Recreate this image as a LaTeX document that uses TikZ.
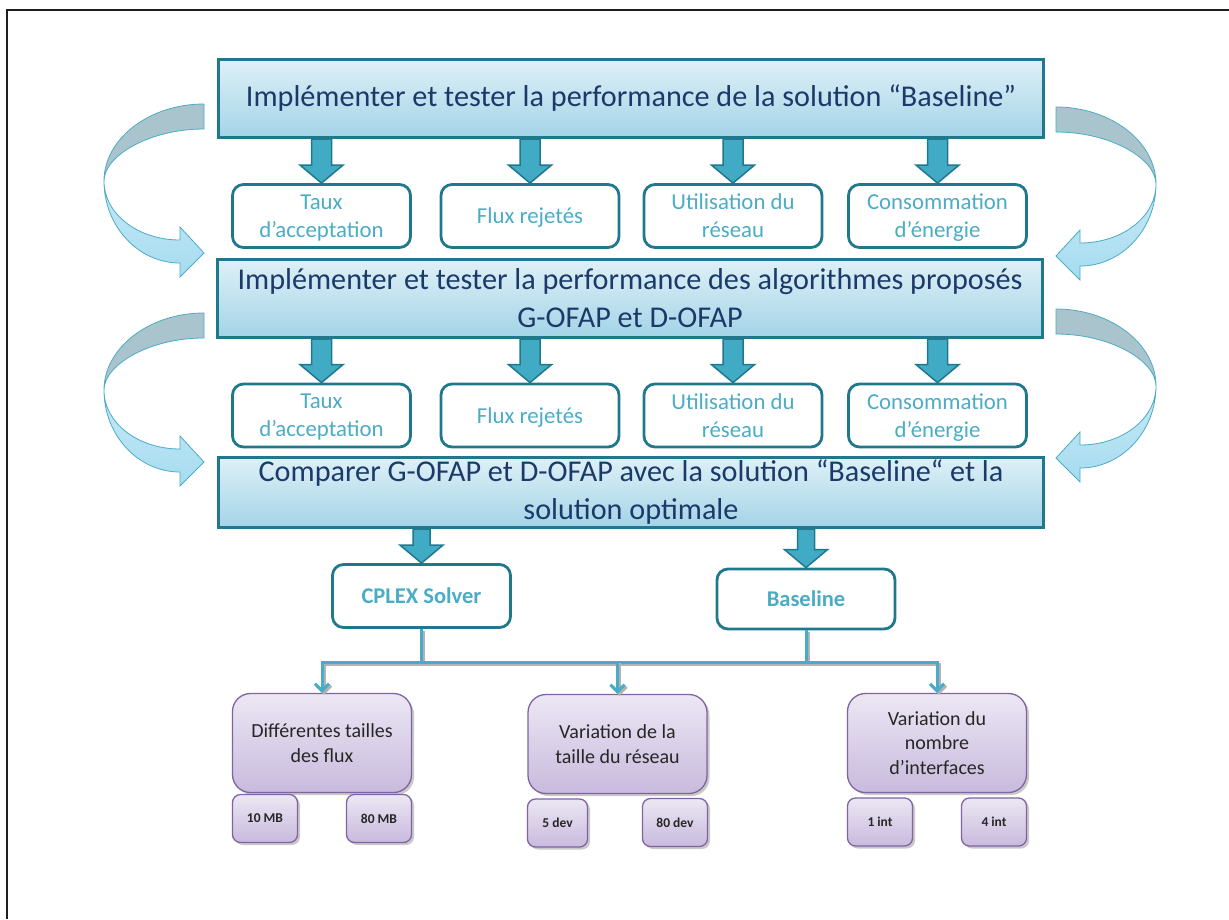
\documentclass[tikz,border=0pt]{standalone}
\usepackage{fontspec}
\setmainfont{Carlito}
\usetikzlibrary{arrows.meta,shadows,calc}
\definecolor{boxborder}{RGB}{32,120,140}
\definecolor{boxtext}{RGB}{28,58,105}
\definecolor{boxtop}{RGB}{222,240,247}
\definecolor{boxbot}{RGB}{163,212,231}
\definecolor{lteal}{RGB}{75,172,198}
\definecolor{arrfill}{RGB}{65,170,196}
\definecolor{curvgray}{RGB}{170,196,205}
\definecolor{curvblueA}{RGB}{200,233,246}
\definecolor{curvblueB}{RGB}{165,220,240}
\definecolor{curvline}{RGB}{75,172,198}
\definecolor{connline}{RGB}{70,172,200}
\definecolor{purpline}{RGB}{128,100,162}
\definecolor{purptop}{RGB}{236,231,244}
\definecolor{purpbot}{RGB}{200,186,221}
\definecolor{purptext}{RGB}{38,38,38}
\definecolor{frameline}{RGB}{30,30,30}
\newcommand{\blockarrow}[3]{%
  \path[blockarr] let \p1=(#1.north), \p2=(#1.north |- #2.south) in
    (\x1-#3,\y2) -- (\x1+#3,\y2) -- (\x1+#3,\y1+18pt) -- (\x1+21.5pt,\y1+18pt)
    -- (\x1,\y1) -- (\x1-21.5pt,\y1+18pt) -- (\x1-#3,\y1+18pt) -- cycle;}
\tikzset{
  curv/.pic={
    \path[fill=curvgray, draw=curvline, line width=0.8pt]
      (0,0) .. controls (-55,0) and (-100,35) .. (-100,77)
      .. controls (-100,52) and (-55,25) .. (0,25) -- cycle;
    \path[top color=curvblueA, bottom color=curvblueB, draw=curvline, line width=0.8pt]
      (-100,77) .. controls (-100,122) and (-66,159) .. (-24,159)
      -- (-24,173) -- (0,149) -- (-24,123) -- (-24,136)
      .. controls (-66,136) and (-100,110) .. (-100,77) -- cycle;
  }
}
\begin{document}
\begin{tikzpicture}[x=1pt,y=-1pt,
  mainbox/.style={draw=boxborder, line width=3pt, top color=boxtop, bottom color=boxbot,
    minimum width=825pt, minimum height=78pt, inner sep=0pt, text=boxtext,
    font=\fontsize{30.2}{38}\selectfont, align=center},
  smallbox/.style={draw=boxborder, line width=2.8pt, fill=white, rounded corners=11pt,
    minimum width=178pt, minimum height=63pt, inner sep=0pt, text=lteal, text depth=0pt,
    font=\fontsize{22.8}{28}\selectfont, align=center},
  boldbox/.style={smallbox, font=\fontsize{22.5}{28}\selectfont\bfseries},
  blockarr/.style={draw=boxborder, line width=1.5pt, fill=arrfill},
  pbox/.style={draw=purpline, line width=1.3pt, top color=purptop, bottom color=purpbot,
    rounded corners=18pt, minimum width=179pt, minimum height=99pt, inner sep=0pt,
    text=purptext, font=\fontsize{20}{24.5}\selectfont, align=center,
    drop shadow={shadow xshift=2.5pt, shadow yshift=-2.5pt, opacity=0.35, fill=black!60}},
  psmall/.style={pbox, rounded corners=8pt, minimum width=65pt, minimum height=48pt,
    font=\fontsize{13.5}{15}\selectfont\bfseries},
  conn/.style={draw=connline, line width=3pt,
    preaction={draw=black!30, line width=3pt, transform canvas={xshift=2pt,yshift=-2pt}}},
  connarr/.style={conn, -{Straight Barb[length=7pt,width=14pt]}}
]
\useasboundingbox (0,0) rectangle (1229,919);
\fill[white] (0,0) rectangle (1229,919);
\draw[frameline, line width=1.5pt] (7,919) -- (7,10) -- (1229,10);

% curved arrows
\pic at (204,104) {curv};
\pic[xscale=-1] at (1056,107) {curv};
\pic at (204,313) {curv};
\pic[xscale=-1] at (1056,309) {curv};

% nodes (positions)
\node[mainbox] (b1) at (631,98.5) {Implémenter et tester la performance de la solution “Baseline”};
\node[mainbox] (b2) at (630,298.5) {Implémenter et tester la performance des algorithmes proposés\\G-OFAP et D-OFAP};
\node[mainbox, minimum height=70pt] (b3) at (631,492.5) {Comparer G-OFAP et D-OFAP avec la solution “Baseline“ et la\\solution optimale};

\node[smallbox] (t1) at (321.5,216) {Taux\\d’acceptation};
\node[smallbox] (f1) at (530,216) {Flux rejetés};
\node[smallbox] (u1) at (733,216) {Utilisation du\\réseau};
\node[smallbox] (c1) at (937.5,216) {Consommation\\d’énergie};

\node[smallbox] (t2) at (321.5,415.5) {Taux\\d’acceptation};
\node[smallbox] (f2) at (530,415.5) {Flux rejetés};
\node[smallbox] (u2) at (733,415.5) {Utilisation du\\réseau};
\node[smallbox] (c2) at (937.5,415.5) {Consommation\\d’énergie};

\node[boldbox] (cplex) at (421.5,596) {CPLEX Solver};
\node[boldbox, minimum height=60pt] (base) at (806,599) {Baseline};

% block arrows
\blockarrow{t1}{b1}{10pt}
\blockarrow{f1}{b1}{10pt}
\blockarrow{u1}{b1}{10pt}
\blockarrow{c1}{b1}{10pt}
\blockarrow{t2}{b2}{10pt}
\blockarrow{f2}{b2}{10pt}
\blockarrow{u2}{b2}{10pt}
\blockarrow{c2}{b2}{10pt}
\blockarrow{cplex}{b3}{8.5pt}
\blockarrow{base}{b3}{8.5pt}

% redraw main boxes on top of arrow shafts
\node[mainbox] at (b1) {Implémenter et tester la performance de la solution “Baseline”};
\node[mainbox] at (b2) {Implémenter et tester la performance des algorithmes proposés\\G-OFAP et D-OFAP};
\node[mainbox, minimum height=70pt] at (b3) {Comparer G-OFAP et D-OFAP avec la solution “Baseline“ et la\\solution optimale};

% purple boxes
\node[pbox] (p1) at (322,743) {Différentes tailles\\des flux};
\node[pbox] (p2) at (617.5,744) {Variation de la\\taille du réseau};
\node[pbox] (p3) at (937,743) {Variation du\\nombre\\d’interfaces};

\node[psmall] (s11) at (265,818.5) {10 MB};
\node[psmall] (s12) at (379,818.5) {80 MB};
\node[psmall, minimum width=60pt] (s21) at (557.5,823) {5 dev};
\node[psmall] (s22) at (675,822.5) {80 dev};
\node[psmall] (s31) at (880,822) {1 int};
\node[psmall] (s32) at (994,822) {4 int};

% connectors
\coordinate (jrow) at (0,662);
\draw[conn] (cplex.south) -- (cplex.south |- jrow);
\draw[conn] (base.south) -- (base.south |- jrow);
\draw[conn] (p2.north |- jrow) -- (base.south |- jrow);
\draw[connarr] (cplex.south |- jrow) -| (p1.north);
\draw[connarr] (cplex.south |- jrow) -| (p2.north);
\draw[connarr] (base.south |- jrow) -| (p3.north);
\end{tikzpicture}
\end{document}
